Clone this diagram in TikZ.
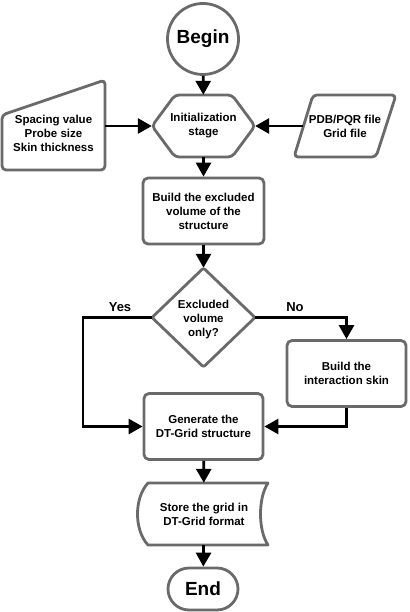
\documentclass[tikz,border=0pt]{standalone}
\usepackage{fontspec}
\setmainfont{Liberation Sans}
\usetikzlibrary{arrows.meta}
\definecolor{gc}{HTML}{6A6A6A}
\begin{document}
\begin{tikzpicture}[x=1pt,y=-1pt,
  shp/.style={draw=gc, line width=2.8pt, fill=white, rounded corners=4pt, line join=round},
  box/.style={shp, rectangle, rounded corners=5pt, inner sep=0pt},
  lbl/.style={font=\bfseries\fontsize{11.5}{14}\selectfont, align=center, inner sep=0pt},
  big/.style={font=\bfseries\fontsize{19}{22}\selectfont},
  conn/.style={line width=2.8pt, -{Triangle[length=14pt,width=15pt]}},
  yn/.style={font=\bfseries\fontsize{13}{15}\selectfont}]
\useasboundingbox (0,0) rectangle (409,612);

% Begin
\node[circle, draw=gc, line width=2.8pt, fill=white, minimum size=71pt, inner sep=0pt, big] (begin) at (203,39) {Begin};

% Initialization hexagon
\draw[shp] (152,126) -- (175,95) -- (232,95) -- (255,126) -- (232,157) -- (175,157) -- cycle;
\node[lbl, minimum width=103pt, minimum height=62pt] (init) at (203.5,126) {Initialization\\stage};

% manual input (left)
\draw[shp] (2,115) -- (105,80) -- (105,170) -- (2,170) -- cycle;
\node[lbl, minimum width=103pt, minimum height=42pt] (params) at (53.5,133) {Spacing value\\Probe size\\Skin thickness};

% parallelogram (right)
\draw[shp] (313,95) -- (396,95) -- (376,157) -- (294,157) -- cycle;
\node[lbl, minimum width=83pt, minimum height=40pt] (files) at (345,126) {PDB/PQR file\\Grid file};

% excluded volume box
\node[box, lbl, minimum width=121pt, minimum height=66pt] (excl) at (203.5,211) {Build the excluded\\volume of the\\structure};

% diamond
\draw[shp, rounded corners=2pt] (203.5,268) -- (255,317.5) -- (203.5,367) -- (152,317.5) -- cycle;
\node[lbl, minimum width=103pt, minimum height=99pt] (dec) at (203.5,317.5) {};
\node[lbl] at (203.5,320) {Excluded\\volume\\only?};

% interaction skin box
\node[box, lbl, minimum width=119pt, minimum height=66pt] (skin) at (346.5,373.5) {Build the\\interaction skin};

% generate box
\node[box, lbl, minimum width=119pt, minimum height=66pt] (gen) at (203.5,426.5) {Generate the\\DT-Grid structure};

% stored data shape
\draw[shp, rounded corners=0pt] (148,483) -- (268,483)
  .. controls (258,498) and (258,530) .. (268,545)
  -- (148,545) .. controls (134,530) and (134,498) .. (148,483) -- cycle;
\node[lbl, minimum width=125pt, minimum height=62pt] (store) at (204,514) {Store the grid in\\DT-Grid format};

% End
\node[rectangle, rounded corners=21pt, draw=gc, line width=2.8pt, fill=white, minimum width=70pt, minimum height=42pt, inner sep=0pt, big] (end) at (203,589) {End};

% connectors
\draw[conn] (begin) -- (init);
\draw[conn] (params.east |- init) -- (init.west);
\draw[conn] (files.west) -- (init.east);
\draw[conn] (init) -- (excl);
\draw[conn] (excl) -- (dec);
\draw[conn] (dec.west) -| (83,426.5) -- (gen.west);
\draw[conn] (dec.east) -| (skin.north);
\draw[conn] (skin.south) |- (gen.east);
\draw[conn] (gen) -- (store);
\draw[conn] (store) -- (end);

\node[yn] (yes) at (120,307) {Yes};
\node[yn] (no) at (295,307) {No};
\end{tikzpicture}
\end{document}
